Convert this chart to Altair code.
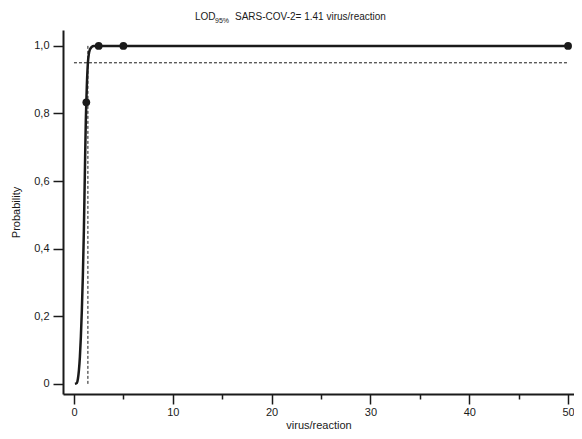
import altair as alt
import pandas as pd

# measured points
pt_x = [1.25, 2.5, 5, 50]
pt_p = [0.833, 1.0, 1.0, 1.0]

# fitted curve
curve_x = [0.1, 0.3, 0.4, 0.5, 0.6, 0.7, 0.8, 0.9, 1.0, 1.1, 1.2, 1.25, 1.3, 1.41, 1.5, 1.6, 1.8, 2.0, 2.5, 5, 50]
curve_p = [0.0, 0.003, 0.015, 0.04, 0.08, 0.14, 0.22, 0.32, 0.45, 0.62, 0.78, 0.833, 0.88, 0.95, 0.975, 0.988, 0.997, 1.0, 1.0, 1.0, 1.0]

lod = 1.41
level = 0.95

x_ticks = [0, 5, 10, 15, 20, 25, 30, 35, 40, 45, 50]
y_ticks = [0, 0.1, 0.2, 0.3, 0.4, 0.5, 0.6, 0.7, 0.8, 0.9, 1.0]

FONT = "Liberation Sans"
INK = "#1a1a1a"

x_scale = alt.Scale(domain=[-1.11, 50.6], nice=False, zero=False)
y_scale = alt.Scale(domain=[-0.03, 1.047], nice=False, zero=False)

x_axis = alt.Axis(
    values=x_ticks,
    title="virus/reaction",
    labelExpr="datum.value % 10 == 0 ? datum.label : ''",
    tickSize={"condition": {"test": "datum.value % 10 == 0", "value": 10}, "value": 5},
    labelPadding=2,
    titlePadding=2,
    grid=False,
)
y_axis = alt.Axis(
    values=y_ticks,
    title="Probability",
    labelExpr="round(datum.value*10) % 2 == 0 ? (datum.value == 0 ? '0' : replace(format(datum.value, '.1f'), '.', ',')) : ''",
    tickSize={"condition": {"test": "round(datum.value*10) % 2 == 0", "value": 10}, "value": 5},
    labelPadding=4,
    titlePadding=12,
    grid=False,
)

curve_df = pd.DataFrame({"x": curve_x, "p": curve_p})
pts_df = pd.DataFrame({"x": pt_x, "p": pt_p})
hline_df = pd.DataFrame({"x": [0.0], "x2": [50.0], "p": [level]})
vline_df = pd.DataFrame({"x": [lod], "p": [0.0], "p2": [1.0]})

curve = alt.Chart(curve_df).mark_line(color=INK, strokeWidth=2.5, interpolate="monotone").encode(
    x=alt.X("x:Q", scale=x_scale, axis=x_axis),
    y=alt.Y("p:Q", scale=y_scale, axis=y_axis),
)
pts = alt.Chart(pts_df).mark_circle(color=INK, size=60, opacity=1).encode(
    x=alt.X("x:Q", scale=x_scale),
    y=alt.Y("p:Q", scale=y_scale),
)
hline = alt.Chart(hline_df).mark_rule(color=INK, strokeWidth=1, strokeDash=[3, 2]).encode(
    x=alt.X("x:Q", scale=x_scale), x2="x2:Q", y=alt.Y("p:Q", scale=y_scale)
)
vline = alt.Chart(vline_df).mark_rule(color=INK, strokeWidth=1, strokeDash=[3, 2]).encode(
    x=alt.X("x:Q", scale=x_scale), y=alt.Y("p:Q", scale=y_scale), y2="p2:Q"
)

title1 = alt.Chart(pd.DataFrame({"t": ["LOD"]})).mark_text(align="left", baseline="alphabetic", font=FONT, fontSize=10, color=INK).encode(
    x=alt.value(132), y=alt.value(-10), text="t:N")
title2 = alt.Chart(pd.DataFrame({"t": ["95%"]})).mark_text(align="left", baseline="alphabetic", font=FONT, fontSize=7, color=INK).encode(
    x=alt.value(152), y=alt.value(-7), text="t:N")
title3 = alt.Chart(pd.DataFrame({"t": ["SARS-COV-2= 1.41 virus/reaction"]})).mark_text(align="left", baseline="alphabetic", font=FONT, fontSize=10, color=INK).encode(
    x=alt.value(172), y=alt.value(-10), text="t:N")

chart = alt.layer(hline, vline, curve, pts, title1, title2, title3).properties(
    width=511, height=364,
    autosize=alt.AutoSizeParams(type="none"),
    padding={"left": 55, "top": 22, "right": 0, "bottom": 37},
).configure_view(stroke=None).configure_axis(
    domainColor=INK, domainWidth=2, tickColor=INK, tickWidth=1.5,
    labelFont=FONT, labelFontSize=11, labelColor=INK,
    titleFont=FONT, titleFontSize=11, titleFontWeight="normal", titleColor=INK,
)

chart.save("out.html", embed_options={"renderer": "svg", "actions": False})
